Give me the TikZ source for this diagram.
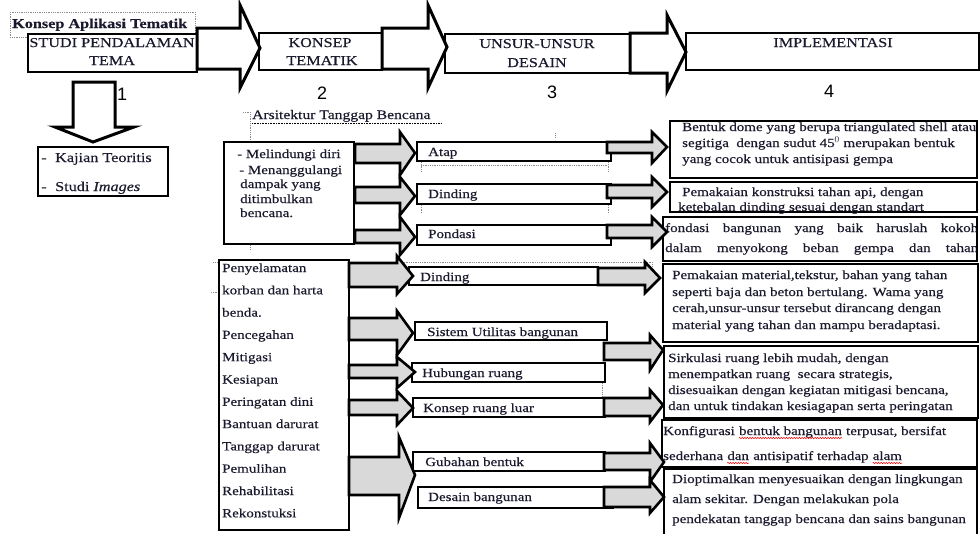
\documentclass[tikz,border=0pt]{standalone}
\usepackage{fontspec}
\setmainfont[FakeStretch=1.2, FakeBold=0.35]{Liberation Serif}
\newfontfamily\numfont{Liberation Sans}
\usetikzlibrary{fit,decorations.pathmorphing}
\definecolor{arrgray}{HTML}{D9D9D9}
\definecolor{dotgray}{HTML}{8C8C8C}
\definecolor{ink}{HTML}{1A1A2E}
\newcommand\blockarr[9]{\filldraw[#1] (#2,#5) -- (#3,#5) -- (#3,#7) -- (#4,#9) -- (#3,#8) -- (#3,#6) -- (#2,#6) -- cycle;}
\begin{document}
\begin{tikzpicture}[x=1pt,y=-1pt,
  bx/.style={draw=black, line width=2.6pt, fill=white, inner sep=0pt},
  tbx/.style={bx, line width=2.8pt},
  txt/.style={inner sep=0pt, anchor=base west, text=ink, font=\fontsize{12.5}{15}\selectfont},
  capt/.style={inner sep=0pt, anchor=base, text=ink, font=\fontsize{13.5}{16}\selectfont},
  num/.style={inner sep=0pt, anchor=base west, font=\numfont\fontsize{18}{20}\selectfont},
  garr/.style={fill=arrgray, draw=black, line width=2.6pt, line join=miter},
  warr/.style={fill=white, draw=black, line width=3pt, line join=miter},
  dots/.style={draw=dotgray, line width=0.8pt, dash pattern=on 0.8pt off 1pt},
  wave/.style={draw=red, line width=0.5pt, decorate, decoration={snake, amplitude=0.7pt, segment length=2.6pt}},
]
\useasboundingbox (0,0) rectangle (980,533);
% ---------- dotted frames / guides ----------
\draw[dots] (10,12) rectangle (195,37);
\draw[dots] (243,112) -- (250,112) -- (250,250);
\draw[dots] (421,162) -- (421,172) (608,162) -- (608,172) (421,165) -- (608,165);
\draw[dots] (421,205) -- (421,214) (608,205) -- (608,214);
\draw[dots] (555,133) -- (555,138);
\draw[dots] (213,262) -- (652,262) -- (652,280);
\draw[dots] (211,292) -- (217,292);
\draw[dots] (602,383) -- (602,397);
% ---------- top row boxes ----------
\node[tbx, fit={(28,34) (197,72)}] (studi) {};
\node[tbx, fit={(259,33) (382,70)}] (konsep) {};
\node[tbx, fit={(445,34) (630,73)}] (unsur) {};
\node[tbx, fit={(686,33) (979,70)}] (impl) {};
\node[inner sep=0pt, anchor=base west, text=ink, font=\bfseries\fontsize{13.5}{16}\selectfont] (title) at (12,28) {Konsep Aplikasi Tematik};
\node[capt] (studi1) at (112,47) {STUDI PENDALAMAN};
\node[capt] (studi2) at (112,65) {TEMA};
\node[capt] (konsep1) at (320,47) {KONSEP};
\node[capt] (konsep2) at (322,65) {TEMATIK};
\node[capt] (unsur1) at (537,48) {UNSUR-UNSUR};
\node[capt] (unsur2) at (537,67) {DESAIN};
\node[capt] (impl1) at (833,47) {IMPLEMENTASI};
% ---------- top arrows ----------
\blockarr{warr}{197}{240}{260}{28}{69}{5}{88}{48}
\blockarr{warr}{382}{428}{447}{28}{69}{5}{88}{47}
\blockarr{warr}{630}{667}{686}{33}{73}{15}{91}{52}
\node[num] (n1) at (117,100) {1};
\node[num] (n2) at (317,99) {2};
\node[num] (n3) at (547,98) {3};
\node[num] (n4) at (824,97) {4};
% ---------- down arrow and Kajian ----------
\filldraw[warr] (73,82) -- (115,82) -- (115,127) -- (134,127) -- (93,142) -- (55,127) -- (73,127) -- cycle;
\node[bx, fit={(38,147) (168,196)}] (kajian) {};
\node[txt, font=\fontsize{13.5}{16}\selectfont] (kaj1) at (41,162) {\makebox[14pt][l]{-}Kajian Teoritis};
\node[txt, font=\fontsize{13.5}{16}\selectfont] (kaj2) at (41,191) {\makebox[14pt][l]{-}Studi \textit{Images}};
% ---------- Arsitektur Tanggap Bencana ----------
\node[txt, font=\fontsize{13}{15}\selectfont] (arsi) at (252,119) {Arsitektur Tanggap Bencana};
\draw[black, line width=0.6pt, dash pattern=on 0.8pt off 0.8pt] (252,123) -- (442,123);
\node[bx, fit={(224,142) (354,244)}] (melindungi) {};
\node[txt] (mel1) at (237,158) {- Melindungi diri};
\node[txt] (mel2) at (239,174) {- Menanggulangi};
\node[txt] (mel3) at (240,188) {dampak yang};
\node[txt] (mel4) at (240,203) {ditimbulkan};
\node[txt] (mel5) at (240,217) {bencana.};
% upper middle boxes
\node[bx, fit={(417,142) (611,161)}] (atap) {};
\node[bx, fit={(417,184) (611,204)}] (dinding1) {};
\node[bx, fit={(417,225) (611,245)}] (pondasi) {};
\node[txt] (atapt) at (428,156) {Atap};
\node[txt] (dinding1t) at (428,198) {Dinding};
\node[txt] (pondasit) at (428,238) {Pondasi};
% upper right boxes
\node[bx, fit={(670,121) (977,178)}] (dome) {};
\node[txt] (dome1) at (682,131) {Bentuk dome yang berupa triangulated shell atau};
\node[txt] (dome2) at (682,147) {segitiga\ \ dengan sudut 45$^{0}$ merupakan bentuk};
\node[txt] (dome3) at (682,163) {yang cocok untuk antisipasi gempa};
\node[bx, fit={(670,182) (977,212)}] (konstruksi) {};
\node[txt] (kon1) at (682,196) {Pemakaian konstruksi tahan api, dengan};
\node[txt] (kon2) at (678,211) {ketebalan dinding sesuai dengan standart};
\node[bx, fit={(663,217) (977,261)}] (fondasi) {};
\begin{scope}
\clip (664,219) rectangle (976,255);
\node[txt] (fon1) at (665,232) {\makebox[313pt][s]{fondasi bangunan yang baik haruslah kokoh}};
\node[txt] (fon2) at (665,252) {\makebox[313pt][s]{dalam menyokong beban gempa dan tahan}};
\end{scope}
% lower left list box
\node[bx, fit={(219,260) (349,530)}] (penyelamatan) {};
\foreach \t [count=\i from 0] in {Penyelamatan, korban dan harta, benda., Pencegahan, Mitigasi, Kesiapan, Peringatan dini, Bantuan darurat, Tanggap darurat, Pemulihan, Rehabilitasi, Rekonstuksi}
  \node[txt] (list\i) at (222,{272+22.3*\i}) {\t};
% lower middle boxes
\node[bx, fit={(409,267) (598,285)}] (dinding2) {};
\node[bx, fit={(415,322) (607,340)}] (sistem) {};
\node[bx, fit={(412,363) (605,382)}] (hubungan) {};
\node[bx, fit={(413,398) (605,417)}] (luar) {};
\node[bx, fit={(413,452) (605,471)}] (gubahan) {};
\node[bx, fit={(418,487) (613,508)}] (desain) {};
\node[txt] (dinding2t) at (420,281) {Dinding};
\node[txt] (sistemt) at (427,336) {Sistem Utilitas bangunan};
\node[txt] (hubungant) at (422,377) {Hubungan ruang};
\node[txt] (luart) at (423,412) {Konsep ruang luar};
\node[txt] (gubahant) at (425,466) {Gubahan bentuk};
\node[txt] (desaint) at (428,501) {Desain bangunan};
% lower right boxes
\node[bx, fit={(663,264) (978,342)}] (material) {};
\node[txt] (mat1) at (672,279) {Pemakaian material,tekstur, bahan yang tahan};
\node[txt] (mat2) at (672,296) {seperti baja dan beton bertulang. Wama yang};
\node[txt] (mat3) at (672,312) {cerah,unsur-unsur tersebut dirancang dengan};
\node[txt] (mat4) at (672,329) {material yang tahan dan mampu beradaptasi.};
\node[bx, fit={(664,346) (978,418)}] (sirkulasi) {};
\node[txt] (sir1) at (668,362) {Sirkulasi ruang lebih mudah, dengan};
\node[txt] (sir2) at (668,378) {menempatkan ruang\ \ secara strategis,};
\node[txt] (sir3) at (668,394) {disesuaikan dengan kegiatan mitigasi bencana,};
\node[txt] (sir4) at (668,410) {dan untuk tindakan kesiagapan serta peringatan};
\node[bx, fit={(662,420) (977,467)}] (konfig) {};
\node[txt] (konf1a) at (663,435) {Konfigurasi};
\node[txt] (konf1b) at ([xshift=3.8pt]konf1a.base east) {bentuk bangunan};
\node[txt] (konf1c) at ([xshift=3.8pt]konf1b.base east) {terpusat, bersifat};
\node[txt] (konf2a) at (663,460) {sederhana};
\node[txt] (konf2b) at ([xshift=3.8pt]konf2a.base east) {dan};
\node[txt] (konf2c) at ([xshift=3.8pt]konf2b.base east) {antisipatif terhadap};
\node[txt] (konf2d) at ([xshift=3.8pt]konf2c.base east) {alam};
\draw[wave] ([yshift=-3pt]konf1b.base west) -- ([yshift=-3pt]konf1b.base east);
\draw[wave] ([yshift=-3pt]konf2b.base west) -- ([yshift=-3pt]konf2b.base east);
\draw[wave] ([yshift=-3pt]konf2d.base west) -- ([yshift=-3pt]konf2d.base east);
\node[bx, fit={(664,469) (977,545)}] (diopt) {};
\node[txt] (dio1) at (672,483) {Dioptimalkan menyesuaikan dengan lingkungan};
\node[txt] (dio2) at (672,503) {alam sekitar. Dengan melakukan pola};
\node[txt] (dio3) at (672,523) {pendekatan tanggap bencana dan sains bangunan};
% ---------- gray block arrows ----------
\blockarr{garr}{355}{400}{415}{144}{163}{132}{175}{153}
\blockarr{garr}{355}{400}{415}{187}{203}{177}{215}{196}
\blockarr{garr}{355}{400}{415}{230}{243}{217}{255}{237}
\blockarr{garr}{607}{652}{667}{142}{153}{132}{163}{147}
\blockarr{garr}{607}{652}{667}{185}{198}{177}{207}{192}
\blockarr{garr}{607}{652}{667}{225}{238}{217}{247}{232}
\blockarr{garr}{349}{397}{413}{263}{287}{256}{294}{276}
\blockarr{garr}{349}{397}{413}{318}{340}{311}{355}{333}
\blockarr{garr}{349}{397}{415}{365}{378}{357}{388}{372}
\blockarr{garr}{349}{397}{413}{400}{415}{391}{425}{408}
\blockarr{garr}{349}{399}{415}{457}{495}{437}{518}{475}
\blockarr{garr}{598}{645}{660}{268}{285}{262}{293}{278}
\blockarr{garr}{604}{650}{663}{343}{360}{335}{370}{350}
\blockarr{garr}{604}{650}{663}{398}{416}{390}{422}{405}
\blockarr{garr}{604}{650}{664}{453}{470}{443}{482}{462}
\blockarr{garr}{604}{650}{664}{487}{507}{480}{513}{497}
\end{tikzpicture}
\end{document}
